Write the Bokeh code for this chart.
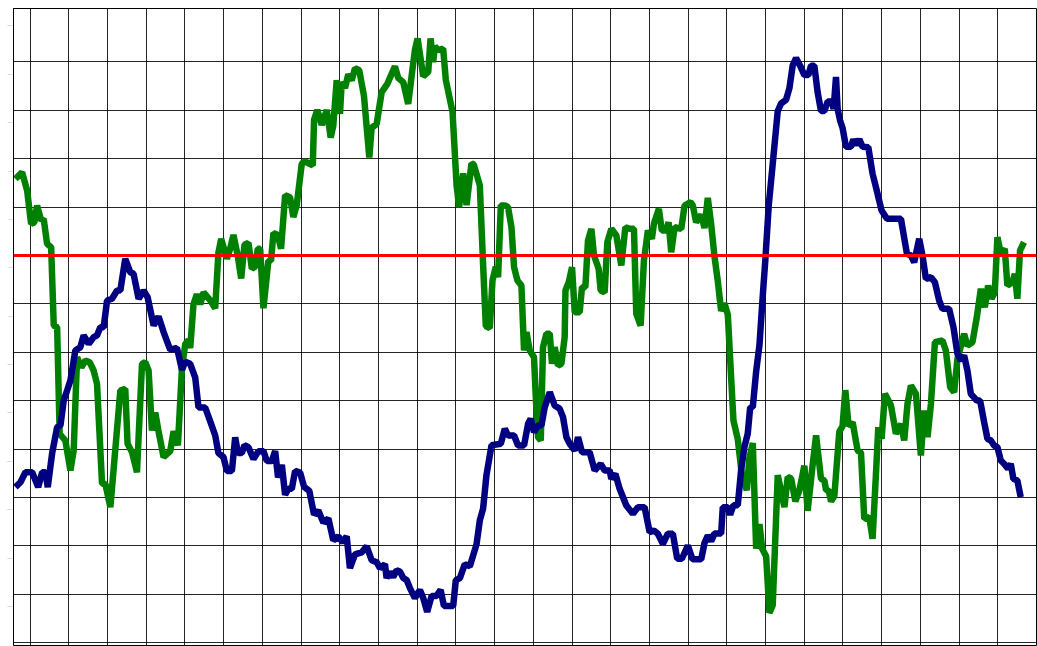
from bokeh.plotting import figure
from bokeh.models import Range1d, FixedTicker, Span
from bokeh.embed import file_html
from bokeh.resources import INLINE

# ---- data (x = time index, y = oscillator value) ----
navy_x = [-15.2, -10.0, -4.9, 2.1, 8.3, 12.4, 15.8, 18.2, 22.7, 27.9, 31.3, 34.7, 38.2, 41.6, 46.7, 51.9,
          55.3, 60.5, 65.6, 69.1, 72.5, 76.0, 79.5, 84.6, 89.8, 93.2, 98.3, 103.5, 106.9, 112.1, 117.2,
          121.4, 127.6, 132.7, 137.9, 144.8, 151.7, 156.9, 160.3, 165.4, 170.6, 174.0, 180.9, 186.1,
          191.2, 194.6, 199.8, 203.3, 208.5, 211.9, 214.7, 218.8, 221.5, 225.6, 230.8, 235.9, 241.1,
          244.6, 249.7, 253.2, 256.2, 260.1, 263.5, 266.9, 270.4, 273.8, 279.0, 283.1, 288.5, 293.4,
          297.8, 303.0, 308.2, 313.3, 318.5, 323.0, 327.1, 330.5, 335.7, 342.6, 347.8, 352.9, 358.1,
          361.5, 366.7, 368.4, 371.8, 375.2, 378.7, 382.1, 385.6, 389.1, 392.5, 397.6, 402.8, 406.2,
          410.3, 414.9, 420.0, 424.2, 427.6, 437.2, 439.9, 444.1, 449.2, 454.4, 461.3, 464.7, 468.1,
          471.6, 476.8, 486.4, 490.5, 493.9, 500.1, 504.2, 510.4, 514.6, 517.3, 520.7, 524.9, 528.4,
          531.8, 537.0, 542.1, 547.3, 550.7, 554.2, 557.6, 562.8, 566.2, 570.3, 578.2, 583.4, 589.6,
          593.7, 598.9, 600.6, 604.8, 609.2, 616.1, 622.9, 628.1, 635.0, 640.2, 644.6, 648.7, 653.9,
          659.0, 664.2, 668.7, 673.5, 679.7, 684.5, 693.5, 696.9, 700.3, 703.8, 707.2, 714.1, 715.8,
          721.0, 723.4, 726.8, 731.3, 734.8, 738.2, 741.6, 744.1, 746.8, 750.3, 753.7, 757.1, 759.9,
          763.3, 767.4, 772.6, 776.1, 781.2, 784.6, 788.0, 791.5, 795.7, 800.1, 804.2, 807.0, 810.4,
          813.8, 817.3, 820.8, 824.2, 828.7, 830.3, 832.8, 834.5, 837.0, 839.6, 843.1, 848.3, 850.7,
          853.5, 856.9, 860.3, 866.2, 870.6, 874.1, 879.9, 885.5, 899.9, 906.1, 910.2, 913.6, 918.8,
          922.2, 925.7, 930.9, 935.0, 939.4, 942.8, 949.7, 954.2, 958.3, 961.8, 965.2, 968.6, 972.1,
          978.3, 981.7, 985.9, 989.3, 992.8, 996.2, 999.6, 1003.1, 1006.5, 1010.6, 1013.4, 1016.1,
          1020.2, 1023.7]
navy_y = [-239.3, -234.2, -223.9, -223.9, -239.3, -223.9, -223.9, -239.3, -204.5, -177.4, -175.6, -149.8,
          -139.5, -129.1, -98.1, -94.7, -82.6, -91.2, -84.4, -82.6, -74.1, -74.1, -46.5, -44.7, -36.2,
          -36.2, -3.4, -17.3, -18.9, -44.7, -36.2, -43.1, -72.3, -63.0, -79.1, -97.5, -95.4, -118.1,
          -109.8, -111.9, -126.2, -157.0, -157.0, -171.4, -185.7, -204.1, -208.3, -222.6, -222.6,
          -187.7, -204.1, -204.1, -196.0, -198.0, -210.3, -202.1, -202.1, -212.3, -212.3, -202.1,
          -229.3, -216.4, -247.2, -241.0, -241.0, -222.6, -224.2, -239.0, -243.1, -267.7, -263.5,
          -275.8, -271.7, -294.3, -290.2, -296.4, -290.2, -323.0, -308.7, -306.6, -300.4, -314.8,
          -316.8, -323.0, -318.9, -333.2, -327.0, -332.2, -325.1, -326.4, -333.2, -335.3, -343.6,
          -353.8, -345.5, -353.8, -368.1, -351.7, -351.7, -345.5, -362.0, -362.0, -335.3, -333.2,
          -318.9, -321.0, -298.4, -273.7, -261.5, -226.7, -196.0, -194.5, -179.0, -185.9, -185.9,
          -196.3, -196.3, -173.9, -168.7, -182.5, -175.6, -175.6, -156.7, -141.2, -155.0, -158.4,
          -167.0, -187.7, -194.5, -201.4, -187.7, -203.2, -203.2, -222.1, -215.2, -222.1, -222.1,
          -230.7, -225.5, -241.0, -258.3, -266.8, -260.0, -260.0, -285.8, -284.1, -287.5, -297.8,
          -287.5, -287.5, -313.3, -313.3, -299.6, -313.8, -313.8, -297.0, -289.2, -295.1, -287.3,
          -287.3, -260.0, -260.0, -267.8, -258.0, -258.0, -221.1, -197.6, -184.0, -156.7, -156.7,
          -119.6, -92.4, -41.7, -2.7, 51.9, 94.7, 149.3, 157.1, 160.9, 172.6, 196.1, 203.9, 196.1,
          186.4, 186.4, 196.1, 196.1, 168.8, 149.3, 149.3, 159.1, 159.1, 151.3, 184.4, 151.3, 139.6,
          131.7, 112.3, 112.3, 120.0, 114.3, 120.0, 112.3, 111.9, 84.4, 70.6, 46.5, 37.9, 37.9, 1.8,
          0.0, -6.9, 17.3, 0.0, -24.1, -22.4, -27.6, -46.5, -55.1, -55.1, -74.1, -101.5, -108.5,
          -103.3, -118.8, -142.9, -149.8, -149.8, -172.2, -189.3, -191.1, -196.3, -198.0, -211.8,
          -215.2, -220.3, -215.2, -230.7, -232.4, -249.7]

green_x = [-15.2, -8.3, -3.1, 1.0, 4.4, 7.2, 11.4, 14.0, 17.5, 21.7, 24.4, 27.9, 30.5, 36.4, 41.6, 45.0,
           48.5, 52.9, 57.1, 61.5, 65.6, 69.1, 74.3, 77.7, 82.9, 93.2, 98.3, 100.7, 105.3, 110.4, 115.6,
           119.0, 122.4, 125.9, 129.3, 132.7, 137.9, 144.8, 148.2, 152.7, 156.9, 160.3, 163.7, 165.4,
           168.8, 172.3, 175.8, 179.2, 186.1, 191.2, 194.6, 197.4, 203.3, 206.7, 210.1, 214.7, 218.1,
           221.5, 225.6, 229.1, 232.5, 235.3, 237.7, 241.1, 246.2, 249.0, 251.4, 255.9, 259.3, 263.5,
           268.6, 272.0, 275.5, 280.7, 284.1, 292.1, 293.4, 296.8, 301.3, 306.5, 310.6, 313.3, 316.8,
           320.2, 322.0, 325.4, 328.8, 332.3, 335.7, 340.1, 345.0, 350.5, 352.9, 358.1, 363.3, 369.0,
           377.0, 380.4, 385.6, 390.7, 394.2, 397.6, 400.4, 406.2, 411.4, 413.8, 416.5, 418.3, 421.7,
           426.8, 429.6, 436.5, 440.7, 443.3, 447.5, 451.0, 456.1, 458.5, 464.7, 468.1, 470.9, 475.0,
           477.8, 481.2, 483.6, 486.4, 490.5, 493.9, 497.4, 500.1, 503.6, 507.7, 510.4, 512.9, 516.3,
           520.7, 523.2, 524.9, 527.7, 530.0, 533.5, 537.0, 539.3, 542.1, 545.5, 549.0, 552.4, 553.2,
           556.6, 560.0, 562.8, 567.9, 570.3, 573.8, 576.5, 580.0, 582.7, 587.5, 589.6, 593.7, 596.5,
           600.6, 605.8, 610.9, 615.1, 619.5, 624.0, 626.4, 630.9, 634.3, 638.4, 642.5, 644.6, 649.7,
           652.8, 657.4, 659.8, 662.5, 666.0, 672.9, 676.3, 682.5, 684.8, 688.3, 693.5, 696.9, 700.3,
           703.8, 707.2, 710.6, 714.1, 717.6, 721.0, 724.5, 726.8, 731.3, 735.8, 740.6, 743.3, 746.8,
           750.3, 753.7, 756.5, 760.6, 764.0, 767.4, 772.6, 779.5, 782.9, 786.4, 790.8, 795.0, 800.1,
           803.5, 808.1, 812.2, 817.3, 820.8, 822.5, 825.2, 827.7, 831.1, 836.2, 839.6, 842.4, 845.8,
           850.0, 855.1, 858.6, 862.0, 867.2, 870.6, 874.1, 876.5, 879.9, 883.4, 889.6, 894.7, 899.9,
           903.3, 906.7, 910.2, 915.4, 920.5, 923.9, 927.4, 930.9, 935.0, 942.8, 946.3, 950.8, 954.9,
           958.3, 965.2, 968.6, 973.8, 978.3, 982.5, 986.6, 990.0, 993.4, 996.9, 999.6, 1003.1, 1007.2,
           1009.9, 1015.1, 1017.6, 1020.2, 1023.0, 1027.1]
green_y = [79.2, 86.0, 67.1, 32.7, 34.4, 51.7, 36.2, 37.9, 12.1, 8.6, -72.3, -74.1, -184.2, -191.1, -222.1,
           -201.4, -105.1, -115.4, -108.5, -110.2, -118.8, -132.5, -235.8, -235.8, -260.0, -139.5,
           -137.7, -194.5, -203.2, -223.9, -111.9, -110.2, -118.8, -180.8, -162.2, -181.8, -208.3,
           -202.1, -181.6, -196.0, -116.0, -91.4, -87.3, -95.6, -50.4, -40.2, -50.4, -38.1, -46.3,
           -54.5, 2.9, 17.3, -3.3, 6.9, 21.3, -1.2, -23.8, 11.1, 13.1, -13.5, -11.5, 6.9, 6.9, -54.5,
           -5.4, -5.2, 23.3, 21.3, 6.9, 62.3, 60.2, 39.8, 52.1, 95.0, 97.1, 93.1, 140.2, 150.4, 134.9,
           150.4, 121.8, 134.3, 181.2, 146.4, 179.1, 173.0, 187.3, 180.8, 193.5, 191.4, 164.8, 101.2,
           131.9, 136.0, 168.9, 177.1, 195.5, 183.3, 179.1, 156.6, 185.3, 212.0, 224.3, 185.3, 189.5,
           224.3, 199.7, 216.0, 212.0, 213.9, 181.2, 148.4, 72.5, 50.0, 84.8, 52.1, 95.1, 94.0, 72.5,
           -9.4, -72.9, -75.0, -25.8, -11.5, -22.4, 51.7, 51.7, 49.9, 29.2, -12.1, -25.8, -31.0, -98.1,
           -79.2, -98.1, -105.1, -160.1, -187.7, -191.1, -94.7, -80.9, -80.9, -111.9, -94.7, -113.6,
           -111.9, -84.4, -36.2, -27.6, -12.1, -58.6, -58.6, -32.7, -32.7, 15.5, 27.6, 0.0, -13.7,
           -36.2, -37.9, 13.7, 27.6, 20.7, -10.3, 29.2, 27.6, 27.6, -60.2, -72.3, -5.2, 25.8, 17.3,
           32.7, 48.2, 25.8, 25.8, 34.4, 3.4, 29.2, 27.6, 51.7, 55.1, 51.9, 34.3, 42.1, 28.4, 59.6,
           32.3, -0.8, -26.1, -57.3, -49.5, -61.2, -127.5, -170.3, -189.9, -228.8, -242.4, -209.3,
           -193.7, -302.9, -277.6, -302.9, -310.7, -369.2, -361.3, -226.8, -260.0, -228.8, -230.4,
           -254.1, -242.4, -217.1, -263.8, -221.1, -185.9, -230.8, -232.4, -242.4, -242.4, -254.1,
           -248.3, -182.0, -176.2, -139.1, -176.2, -172.3, -201.5, -203.5, -272.0, -270.3, -292.6,
           -225.5, -177.4, -189.3, -142.9, -155.0, -184.2, -173.9, -191.1, -153.2, -134.3, -142.9,
           -206.6, -160.1, -187.7, -153.2, -89.6, -87.8, -98.1, -136.0, -141.2, -106.7, -80.9, -93.0,
           -89.6, -63.7, -34.4, -53.4, -31.0, -44.7, -37.9, 18.9, 1.8, 6.9, -31.0, -27.6, -18.9, -44.7,
           5.2, 13.7]

reference_level = 0.0
x_grid_ticks = list(range(0, 1041, 40))
y_grid_ticks = list(range(-400, 201, 50))
y_label_ticks = [237.5 - 50 * k for k in range(13)]

p = figure(width=1037, height=646, output_backend="svg", toolbar_location=None,
           x_range=Range1d(-17.2, 1040), y_range=Range1d(-402.9, 255.2),
           min_border_left=13, min_border_right=1, min_border_top=8, min_border_bottom=1,
           background_fill_color="white", border_fill_color="white")

p.outline_line_color = "#000000"
p.outline_line_width = 1
p.xaxis.visible = False

p.yaxis.ticker = FixedTicker(ticks=y_label_ticks)
p.yaxis.major_label_text_font_size = "2px"
p.yaxis.major_label_text_color = "#999999"
p.yaxis.major_label_standoff = 1
p.yaxis.major_tick_out = 0
p.yaxis.major_tick_in = 0
p.yaxis.minor_tick_out = 0
p.yaxis.minor_tick_in = 0
p.yaxis.axis_line_color = "#000000"
p.yaxis.axis_line_width = 1

p.xgrid.ticker = FixedTicker(ticks=x_grid_ticks)
p.ygrid.ticker = FixedTicker(ticks=y_grid_ticks)
for g in (p.xgrid, p.ygrid):
    g.grid_line_color = "#000000"
    g.grid_line_width = 1
    g.grid_line_alpha = 0.85

p.line(green_x, green_y, line_color="#008000", line_width=6.5, line_join="bevel")
p.line(navy_x, navy_y, line_color="#000080", line_width=6.5, line_join="bevel")

p.add_layout(Span(location=reference_level, dimension="width", line_color="#ff0000", line_width=3))

open("out.html", "w").write(file_html(p, INLINE))
